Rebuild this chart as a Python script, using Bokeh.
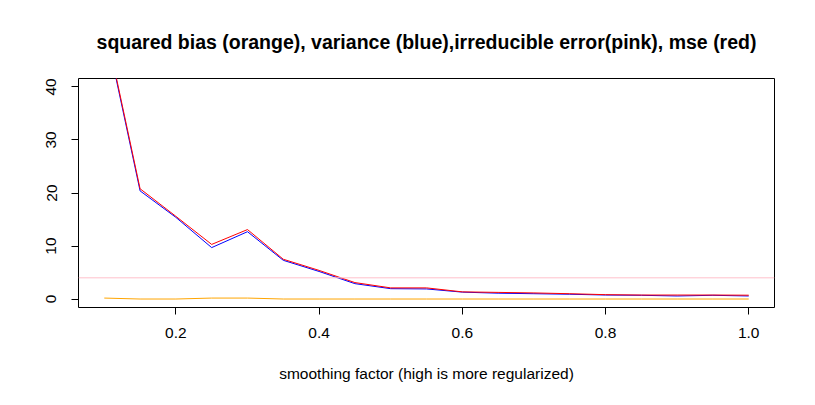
from bokeh.plotting import figure
from bokeh.models import Span, FixedTicker
from bokeh.embed import file_html
from bokeh.resources import INLINE

# smoothing factor values
smoothing = [0.10, 0.15, 0.20, 0.25, 0.30, 0.35, 0.40, 0.45, 0.50, 0.55,
             0.60, 0.65, 0.70, 0.75, 0.80, 0.85, 0.90, 0.95, 1.00]
# squared bias (orange)
sq_bias = [0.18, 0.0, 0.0, 0.18, 0.18, 0.0, 0.0, 0.0, 0.0, 0.0,
           0.0, 0.0, 0.0, 0.0, 0.0, 0.0, 0.0, 0.0, 0.0]
# variance (blue)
variance = [52.0, 20.4, 15.4, 9.7, 12.7, 7.3, 5.2, 2.9, 1.95, 1.9,
            1.3, 1.1, 1.0, 0.9, 0.75, 0.7, 0.57, 0.7, 0.57]
# mse (red)
mse = [52.4, 20.8, 15.6, 10.3, 13.1, 7.5, 5.4, 3.1, 2.1, 2.1,
       1.35, 1.25, 1.15, 1.0, 0.82, 0.75, 0.75, 0.75, 0.72]
# irreducible error (pink)
irreducible_error = 4.0

x_ticks = [0.2, 0.4, 0.6, 0.8, 1.0]
x_tick_labels = ["0.2", "0.4", "0.6", "0.8", "1.0"]
y_ticks = [0, 10, 20, 30, 40]
y_tick_labels = ["0", "10", "20", "30", "40"]

FONT = "Liberation Sans"

p = figure(width=815, height=405, output_backend="svg", toolbar_location=None,
           x_range=(0.064, 1.036), y_range=(-1.6, 41.6),
           min_border_left=78, min_border_right=41, min_border_top=78, min_border_bottom=98,
           title="squared bias (orange), variance (blue),irreducible error(pink), mse (red)")

p.title.align = "center"
p.title.text_font = FONT
p.title.text_font_size = "19.5px"
p.title.text_font_style = "bold"
p.title.text_color = "black"
p.title.standoff = 52

p.xgrid.visible = False
p.ygrid.visible = False
p.outline_line_color = "black"
p.outline_line_width = 1
p.outline_line_alpha = 1.0
p.background_fill_color = "white"
p.border_fill_color = "white"

p.line(smoothing, sq_bias, line_color="orange", line_width=1)
p.line(smoothing, variance, line_color="blue", line_width=1)
p.add_layout(Span(location=irreducible_error, dimension="width", line_color="pink", line_width=1))
p.line(smoothing, mse, line_color="red", line_width=1)

for ax in (p.xaxis[0], p.yaxis[0]):
    ax.axis_line_color = None
    ax.major_tick_line_color = "black"
    ax.major_tick_out = 7
    ax.major_tick_in = 0
    ax.minor_tick_line_color = None
    ax.major_label_text_font = FONT
    ax.major_label_text_font_size = "15.5px"
    ax.major_label_text_color = "black"

p.xaxis[0].ticker = FixedTicker(ticks=x_ticks)
p.xaxis[0].major_label_overrides = dict(zip(x_ticks, x_tick_labels))
p.xaxis[0].major_label_standoff = 13
p.xaxis[0].axis_label = "smoothing factor (high is more regularized)"
p.xaxis[0].axis_label_text_font = FONT
p.xaxis[0].axis_label_text_font_size = "15.5px"
p.xaxis[0].axis_label_text_font_style = "normal"
p.xaxis[0].axis_label_text_color = "black"
p.xaxis[0].axis_label_standoff = 24

p.yaxis[0].ticker = FixedTicker(ticks=y_ticks)
p.yaxis[0].major_label_overrides = dict(zip(y_ticks, y_tick_labels))
p.yaxis[0].major_label_orientation = "vertical"
p.yaxis[0].major_label_standoff = 15

open("out.html", "w").write(file_html(p, INLINE))
